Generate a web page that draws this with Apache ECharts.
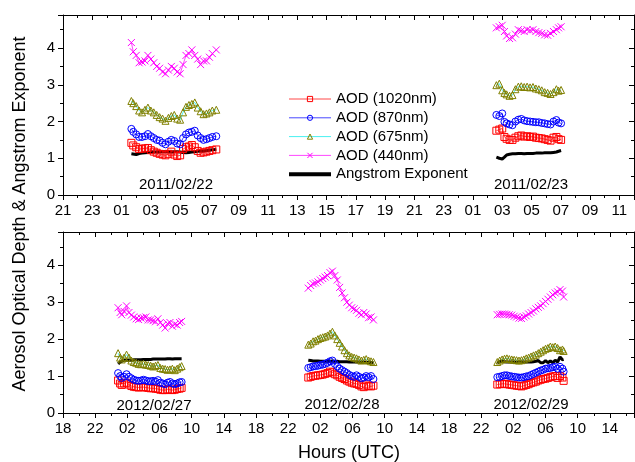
<!DOCTYPE html>
<html>
<head>
<meta charset="utf-8">
<script src="https://cdn.jsdelivr.net/npm/echarts@6/dist/echarts.min.js"></script>
<style>
html, body { margin: 0; padding: 0; background: #fff; }
#main { width: 635px; height: 462px; }
</style>
</head>
<body>
<div id="main"></div>
<script>
// 时间为当天小时(UTC)，数值为 AOD / Angstrom 指数
var t0222 = [1.67,1.8,2.0,2.2,2.4,2.6,2.8,3.0,3.2,3.4,3.6,3.8,4.0,4.2,4.4,4.6,4.8,5.0,5.2,5.4,5.6,5.8,6.0,6.2,6.4,6.6,6.8,7.0,7.2,7.47];
var a440_0222 = [4.15,3.9,3.8,3.6,3.62,3.65,3.8,3.7,3.6,3.5,3.45,3.35,3.3,3.4,3.5,3.45,3.35,3.3,3.55,3.8,3.85,3.95,3.8,3.7,3.55,3.65,3.65,3.75,3.85,3.95];
var a675_0222 = [2.56,2.5,2.42,2.3,2.25,2.32,2.38,2.3,2.25,2.18,2.12,2.08,2.02,2.1,2.15,2.18,2.08,2.05,2.25,2.4,2.45,2.48,2.52,2.38,2.28,2.2,2.22,2.25,2.3,2.32];
var a870_0222 = [1.8,1.72,1.65,1.58,1.58,1.6,1.66,1.6,1.55,1.5,1.48,1.42,1.38,1.45,1.5,1.47,1.4,1.38,1.55,1.65,1.7,1.72,1.75,1.62,1.55,1.5,1.52,1.55,1.58,1.6];
var a1020_0222 = [1.42,1.35,1.3,1.25,1.26,1.27,1.28,1.22,1.18,1.15,1.12,1.1,1.08,1.12,1.18,1.1,1.06,1.08,1.25,1.3,1.32,1.36,1.3,1.2,1.15,1.16,1.18,1.2,1.22,1.24];
var ae_0222 = [1.12,1.08,1.1,1.13,1.14,1.15,1.16,1.17,1.17,1.17,1.18,1.18,1.18,1.18,1.17,1.18,1.18,1.17,1.16,1.15,1.16,1.17,1.18,1.19,1.2,1.2,1.21,1.22,1.23,1.24];

var t0223 = [2.6,2.8,3.0,3.15,3.3,3.5,3.7,3.9,4.1,4.3,4.5,4.7,4.9,5.1,5.3,5.5,5.7,5.9,6.1,6.3,6.5,6.7,6.85,7.02];
var a440_0223 = [4.55,4.58,4.62,4.45,4.33,4.26,4.28,4.38,4.5,4.47,4.45,4.5,4.48,4.5,4.45,4.42,4.4,4.36,4.35,4.4,4.45,4.5,4.55,4.58];
var a675_0223 = [2.99,3.03,2.85,2.78,2.74,2.7,2.72,2.88,2.95,2.96,2.94,2.95,2.93,2.94,2.9,2.88,2.85,2.8,2.78,2.75,2.8,2.88,2.84,2.86];
var a870_0223 = [2.18,2.15,2.22,1.99,1.95,1.92,1.9,2.0,2.05,2.07,2.03,2.01,2.0,1.99,1.98,1.98,1.96,1.95,1.93,1.92,2.0,2.04,1.97,1.95];
var a1020_0223 = [1.75,1.78,1.81,1.58,1.53,1.5,1.5,1.56,1.6,1.62,1.59,1.6,1.58,1.59,1.56,1.55,1.54,1.52,1.5,1.48,1.56,1.58,1.52,1.5];
var ae_0223 = [1.03,1.0,0.98,1.03,1.09,1.11,1.12,1.12,1.13,1.13,1.12,1.13,1.13,1.13,1.14,1.14,1.14,1.15,1.15,1.15,1.16,1.17,1.19,1.21];

var t0227 = [0.85,1.1,1.3,1.6,1.9,2.2,2.5,2.8,3.1,3.4,3.7,4.0,4.3,4.6,4.9,5.2,5.5,5.8,6.1,6.4,6.7,7.0,7.3,7.6,7.9,8.2,8.5,8.75];
var a440_0227 = [2.85,2.72,2.66,2.75,2.9,2.72,2.65,2.6,2.55,2.53,2.57,2.58,2.6,2.52,2.52,2.5,2.47,2.55,2.45,2.38,2.3,2.42,2.45,2.35,2.4,2.38,2.45,2.48];
var a675_0227 = [1.62,1.5,1.45,1.5,1.58,1.5,1.42,1.38,1.36,1.33,1.32,1.33,1.31,1.3,1.28,1.26,1.28,1.3,1.22,1.2,1.19,1.17,1.18,1.2,1.16,1.2,1.24,1.27];
var a870_0227 = [1.08,1.0,0.95,0.98,1.05,0.98,0.94,0.9,0.88,0.87,0.88,0.9,0.88,0.86,0.86,0.87,0.85,0.89,0.82,0.8,0.78,0.82,0.84,0.8,0.78,0.8,0.83,0.84];
var a1020_0227 = [0.88,0.8,0.76,0.8,0.82,0.77,0.73,0.71,0.7,0.69,0.7,0.7,0.69,0.68,0.67,0.67,0.66,0.65,0.63,0.62,0.62,0.64,0.63,0.62,0.63,0.65,0.66,0.68];
var ae_0227 = [1.33,1.38,1.42,1.43,1.43,1.43,1.43,1.44,1.44,1.44,1.44,1.45,1.45,1.45,1.45,1.46,1.46,1.46,1.46,1.46,1.46,1.47,1.47,1.46,1.47,1.47,1.47,1.47];

var t0228 = [0.5,0.8,1.1,1.4,1.7,2.0,2.3,2.6,2.9,3.2,3.5,3.8,4.1,4.4,4.7,5.0,5.3,5.6,5.9,6.2,6.5,6.8,7.1,7.4,7.7,8.0,8.3,8.6];
var a440_0228 = [3.38,3.45,3.5,3.52,3.55,3.6,3.64,3.68,3.72,3.8,3.84,3.72,3.6,3.4,3.25,3.12,3.0,2.92,2.85,2.82,2.78,2.7,2.66,2.72,2.68,2.58,2.6,2.52];
var a675_0228 = [1.85,1.88,1.94,1.96,2.0,2.03,2.05,2.07,2.1,2.15,2.2,2.1,2.0,1.9,1.8,1.7,1.62,1.56,1.52,1.5,1.48,1.45,1.42,1.44,1.46,1.42,1.4,1.38];
var a870_0228 = [1.22,1.24,1.26,1.27,1.28,1.3,1.31,1.33,1.36,1.4,1.42,1.33,1.26,1.2,1.16,1.12,1.08,1.03,1.0,0.98,1.02,0.98,0.94,0.96,1.0,0.97,1.0,0.92];
var a1020_0228 = [0.96,0.98,1.0,1.01,1.02,1.03,1.04,1.06,1.08,1.12,1.1,1.05,1.02,0.98,0.95,0.92,0.88,0.85,0.82,0.8,0.79,0.76,0.72,0.7,0.77,0.73,0.72,0.74];
var ae_0228 = [1.43,1.42,1.41,1.41,1.41,1.4,1.4,1.4,1.4,1.4,1.41,1.4,1.4,1.39,1.39,1.39,1.39,1.38,1.38,1.38,1.38,1.38,1.37,1.38,1.37,1.37,1.37,1.36];

var t0229 = [0.0,0.3,0.6,0.9,1.2,1.5,1.8,2.1,2.4,2.7,3.0,3.3,3.6,3.9,4.2,4.5,4.8,5.1,5.4,5.7,6.0,6.3,6.6,6.9,7.2,7.5,7.8,8.1,8.25];
var a440_0229 = [2.66,2.67,2.68,2.68,2.67,2.66,2.65,2.62,2.6,2.57,2.56,2.6,2.63,2.68,2.72,2.76,2.82,2.86,2.9,2.96,3.02,3.08,3.14,3.2,3.25,3.28,3.34,3.3,3.14];
var a675_0229 = [1.38,1.42,1.45,1.47,1.48,1.46,1.45,1.44,1.43,1.42,1.43,1.45,1.48,1.5,1.53,1.56,1.58,1.62,1.66,1.7,1.74,1.76,1.8,1.78,1.8,1.76,1.7,1.72,1.68];
var a870_0229 = [0.97,0.98,1.0,1.02,1.02,1.0,0.99,0.98,0.97,0.96,0.96,0.97,0.99,1.0,1.03,1.06,1.09,1.12,1.15,1.17,1.2,1.21,1.22,1.24,1.25,1.2,1.25,1.2,1.12];
var a1020_0229 = [0.77,0.78,0.79,0.79,0.78,0.77,0.76,0.75,0.74,0.73,0.72,0.74,0.76,0.78,0.81,0.83,0.85,0.88,0.9,0.92,0.93,0.95,0.97,0.99,1.0,0.95,1.0,0.96,0.87];
var ae_0229 = [1.36,1.39,1.4,1.39,1.38,1.38,1.38,1.38,1.37,1.37,1.38,1.38,1.38,1.38,1.38,1.39,1.4,1.42,1.36,1.36,1.42,1.36,1.41,1.36,1.43,1.38,1.52,1.44,1.45];

var seriesNames = ['AOD (1020nm)', 'AOD (870nm)', 'AOD (675nm)', 'AOD (440nm)', 'Angstrom Exponent'];
var dayLabels = ['2011/02/22', '2011/02/23', '2012/02/27', '2012/02/28', '2012/02/29'];

var myChart = echarts.init(document.getElementById('main'));
var FONT = '"Liberation Sans", Arial, sans-serif';

// [面板, 小时偏移(上图从21点起, 下图从18点起), 时间, 1020, 870, 675, 440, AE]
var days = [
    [0, 3,  t0222, a1020_0222, a870_0222, a675_0222, a440_0222, ae_0222],
    [0, 27, t0223, a1020_0223, a870_0223, a675_0223, a440_0223, ae_0223],
    [1, 6,  t0227, a1020_0227, a870_0227, a675_0227, a440_0227, ae_0227],
    [1, 30, t0228, a1020_0228, a870_0228, a675_0228, a440_0228, ae_0228],
    [1, 54, t0229, a1020_0229, a870_0229, a675_0229, a440_0229, ae_0229]
];

// 空心标记：透明填充 + 1px 描边
var looks = [
    { symbol: 'rect', line: '#ff4848', item: '#ff0000' },
    { symbol: 'circle', line: '#4848ff', item: '#0000ff' },
    { symbol: 'triangle', line: '#48f0f0', item: '#808000' },
    { symbol: 'path://M0,0L10,10M10,0L0,10', line: '#ff48ff', item: '#ff00ff' },
    { symbol: 'none', line: '#000000', item: '#000000' }
];
var HOLLOW = 'rgba(255,255,255,0)';

var series = [];
for (var k = 0; k < 5; k++) {
    for (var d = 0; d < days.length; d++) {
        var day = days[d];
        var pts = [];
        for (var i = 0; i < day[2].length; i++) {
            pts.push([day[2][i] + day[1], day[3 + k][i]]);
        }
        var isAE = k == 4;
        series.push({
            name: seriesNames[k],
            type: 'line',
            xAxisIndex: day[0] * 2,
            yAxisIndex: day[0] * 2,
            data: pts,
            symbol: looks[k].symbol,
            symbolSize: 7,
            showSymbol: !isAE,
            animation: false,
            lineStyle: { color: looks[k].line, width: isAE ? 3 : 1 },
            itemStyle: {
                color: isAE ? '#000' : HOLLOW,
                borderColor: looks[k].item,
                borderWidth: 1
            },
            emphasis: { disabled: true }
        });
    }
}

// 图例项
var legendData = [];
for (var n = 0; n < 4; n++) {
    legendData.push({
        name: seriesNames[n],
        itemStyle: { color: HOLLOW, borderColor: looks[n].item, borderWidth: 1 },
        lineStyle: { color: looks[n].line, width: 1 }
    });
}
legendData.push({ name: seriesNames[4], itemStyle: { opacity: 0 }, lineStyle: { width: 4 } });

function hourFmt(base) {
    return function (v) {
        var h = (v + base) % 24;
        return (h < 10 ? '0' : '') + h;
    };
}

function xAx(grid, pos, max, interval, base) {
    var main = pos == 'bottom';
    return {
        type: 'value', gridIndex: grid, position: pos,
        min: 0, max: max, interval: interval,
        axisLine: { show: true, onZero: false, lineStyle: { color: '#000', width: 1 } },
        axisTick: { show: true, inside: !main, length: 5, lineStyle: { color: '#000' } },
        minorTick: { show: true, splitNumber: 2, length: 3, lineStyle: { color: '#000' } },
        axisLabel: {
            show: main, formatter: hourFmt(base), showMinLabel: true, showMaxLabel: false,
            fontFamily: FONT, fontSize: 15, color: '#000', margin: 8
        },
        splitLine: { show: false }
    };
}

function yAx(grid, pos) {
    var main = pos == 'left';
    return {
        type: 'value', gridIndex: grid, position: pos,
        min: 0, max: 4.9, interval: 1,
        axisLine: { show: true, onZero: false, lineStyle: { color: '#000', width: 1 } },
        axisTick: { show: true, inside: !main, length: 5, lineStyle: { color: '#000' } },
        minorTick: { show: true, splitNumber: 2, length: 3, lineStyle: { color: '#000' } },
        axisLabel: {
            show: main, showMaxLabel: false,
            fontFamily: FONT, fontSize: 15, color: '#000', margin: 8
        },
        splitLine: { show: false }
    };
}

var dateText = [
    [176, 185], [531, 185], [154, 406], [342, 405], [531, 405]
];
var graphics = [];
for (var j = 0; j < dayLabels.length; j++) {
    graphics.push({
        type: 'text', x: dateText[j][0], y: dateText[j][1],
        style: {
            text: dayLabels[j], fill: '#000', font: '15px ' + FONT,
            textAlign: 'center', textVerticalAlign: 'middle'
        }
    });
}
graphics.push({
    type: 'text', x: 20, y: 214, rotation: Math.PI / 2,
    style: {
        text: 'Aerosol Optical Depth & Angstrom Exponent', fill: '#000', font: '18px ' + FONT,
        textAlign: 'center', textVerticalAlign: 'middle'
    }
});
graphics.push({
    type: 'text', x: 349, y: 453,
    style: {
        text: 'Hours (UTC)', fill: '#000', font: '18px ' + FONT,
        textAlign: 'center', textVerticalAlign: 'middle'
    }
});

var option = {
    backgroundColor: '#fff',
    animation: false,
    grid: [
        { left: 63, right: 1, top: 15, height: 180 },
        { left: 63, right: 1, top: 232, height: 181 }
    ],
    xAxis: [
        xAx(0, 'bottom', 39, 2, 21),
        xAx(0, 'top', 39, 2, 21),
        xAx(1, 'bottom', 71, 4, 18),
        xAx(1, 'top', 71, 4, 18)
    ],
    yAxis: [yAx(0, 'left'), yAx(0, 'right'), yAx(1, 'left'), yAx(1, 'right')],
    legend: {
        left: 282, top: 86.5, orient: 'vertical',
        itemWidth: 42, itemHeight: 6.5, itemGap: 3.8,
        selectedMode: false,
        textStyle: { fontFamily: FONT, fontSize: 15, color: '#000', lineHeight: 15 },
        data: legendData
    },
    graphic: graphics,
    series: series
};

myChart.setOption(option);
</script>
</body>
</html>
